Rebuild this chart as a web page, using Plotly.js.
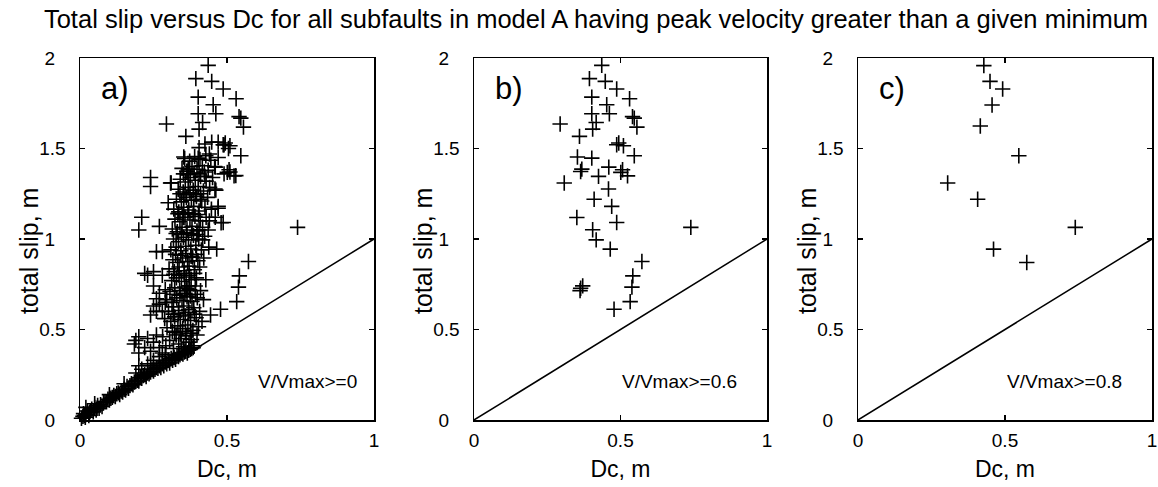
<!DOCTYPE html>
<html>
<head>
<meta charset="utf-8">
<script src="https://cdn.plot.ly/plotly-3.0.1.min.js"></script>
<style>html,body{margin:0;padding:0;background:#fff;}#chart{width:1158px;height:487px;}</style>
</head>
<body>
<div id="chart"></div>
<script>
// Panel a) points (V/Vmax >= 0); panel b points are also part of panel a
const aDc = [
// band along slip = Dc
0.005,0.01,0.012,0.018,0.02,0.025,0.03,0.032,0.04,0.045,0.05,0.055,0.06,0.065,0.07,0.075,0.08,0.09,0.095,0.1,
0.11,0.115,0.12,0.13,0.135,0.14,0.15,0.155,0.16,0.17,0.175,0.18,0.19,0.195,0.2,0.205,0.21,0.22,0.225,0.23,
0.24,0.245,0.25,0.26,0.265,0.27,0.28,0.285,0.29,0.3,0.305,0.31,0.32,0.325,0.33,0.34,0.345,0.35,0.36,0.37,0.375,
0.015,0.035,0.058,0.085,0.105,0.125,0.145,0.165,0.185,0.215,0.235,0.255,0.275,0.295,0.315,0.335,0.355,0.365,0.38,0.385,
// above band
0.02,0.05,0.1,0.15,0.19,0.2,0.21,0.23,0.25,0.24,0.27,0.2,0.22,0.185,0.19,0.2,0.23,0.25,0.26,0.24,0.27,0.28,0.29,
// core
0.292,0.318,0.336,0.352,0.371,0.388,
0.281,0.305,0.327,0.344,0.361,0.379,0.398,
0.296,0.314,0.333,0.349,0.367,0.384,0.403,
0.288,0.309,0.322,0.341,0.358,0.376,0.395,0.415,
0.301,0.318,0.336,0.353,0.369,0.387,0.407,
0.295,0.313,0.329,0.347,0.364,0.381,0.399,0.42,
0.306,0.322,0.339,0.356,0.373,0.392,0.41,
0.312,0.328,0.345,0.361,0.378,0.396,0.428,
0.303,0.321,0.337,0.354,0.371,0.389,0.407,
0.316,0.332,0.349,0.366,0.383,0.401,0.421,
0.309,0.327,0.343,0.36,0.377,0.394,0.413,0.438,
0.318,0.335,0.352,0.369,0.386,0.404,0.424,
0.314,0.331,0.347,0.364,0.381,0.398,0.417,0.436,
0.323,0.34,0.357,0.374,0.391,0.409,0.429,
0.319,0.336,0.353,0.37,0.387,0.405,0.425,0.447,
0.328,0.345,0.362,0.379,0.396,0.414,0.434,
0.334,0.351,0.368,0.385,0.402,0.42,0.441,0.462,
0.341,0.358,0.375,0.392,0.41,0.429,0.451,
0.347,0.364,0.381,0.398,0.416,0.436,0.458,
0.356,0.373,0.39,0.408,0.428,0.445,
0.405,0.425,0.448,0.47,0.49,0.505,
// inner core
0.322,0.341,0.359,0.377,
0.317,0.335,0.352,0.37,0.389,
0.322,0.34,0.357,0.375,0.393,
0.319,0.337,0.355,0.372,0.39,
0.325,0.343,0.36,0.378,0.396,
0.327,0.345,0.362,0.38,0.398,
0.333,0.35,0.367,0.385,0.403,
0.34,0.357,0.374,0.392,0.41,
0.352,0.37,0.388,0.405,0.423,
// left spur and outliers
0.24,0.26,0.28,0.25,0.27,0.29,0.26,0.27,0.25,0.29,0.23,0.25,0.22,0.28,
0.21,0.2,0.27,0.47,0.48,0.46,0.44,
0.24,0.24,0.31,0.3,
0.47,0.51,0.53,0.49,0.44,
0.26,0.28,0.444
];
const aSlip = [
0.01,0.02,0.035,0.015,0.03,0.05,0.025,0.04,0.06,0.045,0.07,0.055,0.08,0.065,0.085,0.075,0.095,0.1,0.115,0.11,
0.125,0.135,0.13,0.15,0.14,0.16,0.17,0.165,0.185,0.19,0.2,0.195,0.215,0.22,0.215,0.235,0.23,0.25,0.24,0.26,
0.265,0.28,0.27,0.29,0.285,0.3,0.31,0.3,0.32,0.33,0.315,0.34,0.345,0.335,0.355,0.36,0.37,0.365,0.38,0.385,0.39,
0.025,0.05,0.065,0.1,0.12,0.145,0.155,0.175,0.21,0.245,0.255,0.28,0.29,0.31,0.33,0.35,0.375,0.37,0.395,0.4,
0.07,0.09,0.14,0.2,0.26,0.3,0.28,0.31,0.33,0.3,0.35,0.37,0.4,0.42,0.44,0.46,0.45,0.43,0.47,0.38,0.4,0.37,0.36,
0.41,0.395,0.42,0.405,0.43,0.41,
0.46,0.44,0.47,0.45,0.465,0.445,0.47,
0.51,0.49,0.52,0.505,0.525,0.495,0.515,
0.56,0.545,0.57,0.555,0.575,0.55,0.565,0.545,
0.6,0.625,0.605,0.63,0.61,0.62,0.6,
0.665,0.65,0.675,0.66,0.68,0.655,0.675,0.665,
0.71,0.73,0.715,0.735,0.72,0.74,0.715,
0.77,0.785,0.765,0.79,0.775,0.785,0.775,
0.835,0.82,0.845,0.825,0.85,0.83,0.845,
0.885,0.87,0.895,0.875,0.9,0.88,0.895,
0.94,0.955,0.935,0.96,0.945,0.965,0.94,0.955,
1.0,0.985,1.01,0.995,1.02,1.0,1.015,
1.055,1.04,1.065,1.05,1.07,1.045,1.065,1.05,
1.11,1.095,1.12,1.105,1.125,1.1,1.12,
1.165,1.15,1.175,1.16,1.18,1.155,1.175,1.165,
1.22,1.205,1.23,1.215,1.235,1.21,1.23,
1.275,1.26,1.285,1.27,1.29,1.265,1.285,1.27,
1.33,1.315,1.34,1.325,1.345,1.32,1.34,
1.39,1.375,1.4,1.385,1.405,1.38,1.4,
1.445,1.43,1.455,1.44,1.46,1.435,
1.505,1.525,1.535,1.535,1.52,1.5,
0.485,0.475,0.49,0.48,
0.585,0.59,0.58,0.595,0.585,
0.695,0.69,0.7,0.685,0.695,
0.805,0.8,0.81,0.8,0.81,
0.915,0.91,0.92,0.905,0.915,
1.03,1.025,1.035,1.03,1.025,
1.14,1.135,1.145,1.14,1.135,
1.25,1.245,1.255,1.245,1.25,
1.36,1.355,1.365,1.36,1.37,
0.58,0.6,0.6,0.63,0.64,0.65,0.67,0.7,0.74,0.72,0.8,0.82,0.81,0.8,
1.12,1.05,1.07,1.17,1.09,1.12,1.1,
1.34,1.29,1.31,1.2,
1.45,1.37,1.35,1.36,1.47,
0.93,0.93,0.58
];
// Panel b) V/Vmax >= 0.6
const bDc = [0.436,0.394,0.448,0.487,0.402,0.531,0.453,0.462,0.402,0.541,0.547,0.417,0.294,0.556,0.405,0.36,0.494,0.487,0.51,0.353,0.402,0.547,0.368,0.364,0.46,0.507,0.501,0.524,0.425,0.308,0.459,0.41,0.47,0.351,0.487,0.405,0.417,0.74,0.465,0.573,0.542,0.539,0.533,0.478,0.364,0.371,0.362];
const bSlip = [1.959,1.886,1.871,1.829,1.784,1.775,1.742,1.692,1.692,1.676,1.668,1.644,1.635,1.618,1.607,1.567,1.53,1.521,1.515,1.453,1.447,1.46,1.386,1.373,1.397,1.383,1.368,1.349,1.346,1.309,1.276,1.22,1.18,1.119,1.091,1.051,0.995,1.064,0.944,0.876,0.796,0.734,0.654,0.612,0.728,0.741,0.715];
// Panel c) V/Vmax >= 0.8
const cDc = [0.428,0.449,0.492,0.456,0.416,0.547,0.305,0.407,0.739,0.461,0.574];
const cSlip = [1.958,1.871,1.829,1.74,1.624,1.46,1.309,1.22,1.064,0.944,0.87];
// Reference line slip = Dc
const lineDc = [0, 1];
const lineSlip = [0, 1];
const panelLabels = ['a)', 'b)', 'c)'];
const condLabels = ['V/Vmax>=0', 'V/Vmax>=0.6', 'V/Vmax>=0.8'];
const xTicks = [0, 0.5, 1];
const xTickText = ['0', '0.5', '1'];
const yTicks = [0, 0.5, 1, 1.5, 2];
const yTickText = ['0', '0.5', '1', '1.5', '2'];

const FONT = 'Liberation Sans, Arial, Helvetica, sans-serif';
const PAD = '\u2007'; // figure space: centres single-digit y labels like the original
const marker = {symbol: 'cross-thin', size: 11, color: '#000', line: {color: '#000', width: 1.6}};
const sets = [
  {x: aDc.concat(bDc), y: aSlip.concat(bSlip)},
  {x: bDc, y: bSlip},
  {x: cDc, y: cSlip}
];
const traces = [];
sets.forEach((s, i) => {
  const xa = i === 0 ? 'x' : 'x' + (i + 1);
  const ya = i === 0 ? 'y' : 'y' + (i + 1);
  traces.push({type: 'scatter', mode: 'lines', x: lineDc, y: lineSlip, xaxis: xa, yaxis: ya,
    line: {color: '#000', width: 1.5}, hoverinfo: 'skip', showlegend: false, cliponaxis: false});
  traces.push({type: 'scatter', mode: 'markers', x: s.x, y: s.y, xaxis: xa, yaxis: ya,
    marker: marker, showlegend: false, cliponaxis: false});
});

const W = 1158, H = 487;
const xDomains = [[80, 374], [474, 767], [858, 1152]];
const yTitleX = [29, 423, 807];
const condRight = [0.95, 0.905, 0.905];
const yDom = [(H - 420) / H, (H - 58) / H];
const layout = {
  width: W, height: H,
  margin: {l: 0, r: 0, t: 0, b: 0},
  paper_bgcolor: '#fff', plot_bgcolor: '#fff',
  font: {family: FONT, color: '#000', size: 19},
  title: {text: 'Total slip versus Dc for all subfaults in model A having peak velocity greater than a given minimum',
    font: {family: FONT, size: 25.5, color: '#000'}, x: 596 / W, xanchor: 'center', xref: 'container',
    y: 1 - 19 / H, yanchor: 'middle', yref: 'container'},
  annotations: [],
  showlegend: false
};
xDomains.forEach((d, i) => {
  const sx = i === 0 ? '' : String(i + 1);
  layout['xaxis' + sx] = {
    domain: [d[0] / W, d[1] / W], range: [0, 1], anchor: 'y' + sx,
    tickvals: xTicks, ticktext: xTickText, ticks: 'inside', ticklen: 5, tickwidth: 1.2, tickcolor: '#000',
    showline: true, linecolor: '#000', linewidth: 1.5, mirror: 'ticks', showgrid: false, zeroline: false,
    tickfont: {size: 19, family: FONT}, ticklabelstandoff: 3,
    title: {text: 'Dc, m', font: {size: 23, family: FONT}, standoff: 10}
  };
  layout['yaxis' + sx] = {
    domain: yDom, range: [0, 2], anchor: 'x' + sx,
    tickvals: yTicks, ticktext: yTickText.map(t => t.length === 1 ? t + PAD : t),
    ticks: 'inside', ticklen: 5, tickwidth: 1.2, tickcolor: '#000',
    showline: true, linecolor: '#000', linewidth: 1.5, mirror: 'ticks', showgrid: false, zeroline: false,
    tickfont: {size: 19, family: FONT}, ticklabelstandoff: 9
  };
  layout.annotations.push({xref: 'paper', yref: 'paper', x: yTitleX[i] / W, y: 1 - 251 / H,
    xanchor: 'center', yanchor: 'middle', textangle: -90,
    text: 'total slip, m', showarrow: false, font: {size: 25, family: FONT, color: '#000'}});
  layout.annotations.push({xref: 'x' + sx, yref: 'y' + sx, x: 0.065, y: 1.83, xanchor: 'left', yanchor: 'middle',
    text: panelLabels[i], showarrow: false, font: {size: 31, family: FONT, color: '#000'}});
  layout.annotations.push({xref: 'x' + sx, yref: 'y' + sx, x: condRight[i], y: 0.21, xanchor: 'right', yanchor: 'middle',
    text: condLabels[i], showarrow: false, font: {size: 19, family: FONT, color: '#000'}});
});

Plotly.newPlot('chart', traces, layout, {staticPlot: true, displayModeBar: false});
</script>
</body>
</html>
